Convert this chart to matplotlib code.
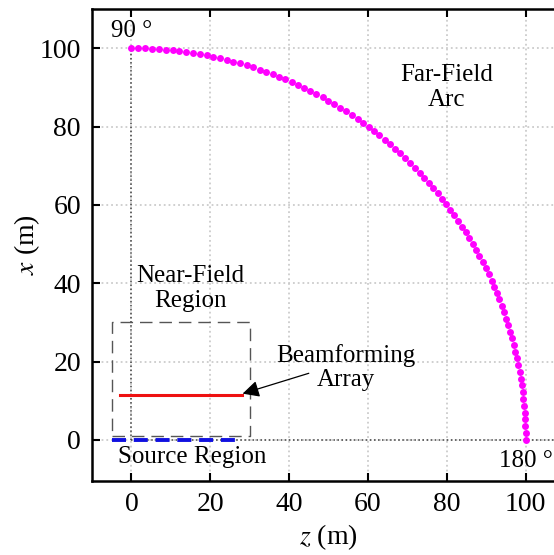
import numpy as np
import matplotlib.pyplot as plt

plt.rcParams['font.family'] = ['Liberation Serif', 'DejaVu Serif']
plt.rcParams['mathtext.fontset'] = 'stix'

# far-field arc: one point per degree, radius 100 m
arc_angles_deg = np.arange(90, 181, 1)
arc_radius = 100.0

# beamforming array (red) and source region (blue)
array_z = [-3, 28]
array_x = [11.5, 11.5]
source_z = [-5, 28]
source_x = [0, 0]

# near-field region box
box_z = [-5, 30, 30, -5, -5]
box_x = [1, 1, 30, 30, 1]

ticks = [0, 20, 40, 60, 80, 100]

fig = plt.figure(figsize=(5.54, 5.55), dpi=100)
ax = fig.add_axes([92 / 554, 74 / 555, 473 / 554, 472 / 555])

theta = np.deg2rad(arc_angles_deg)
arc_z = -arc_radius * np.cos(theta)
arc_x = arc_radius * np.sin(theta)

ax.grid(True, color='#cccccc', linestyle=':', linewidth=1.3)
ax.plot([0, 0], [0, 100], color='#444444', linestyle=':', linewidth=1.1)
ax.plot([0, 110], [0, 0], color='#444444', linestyle=':', linewidth=1.1)

ax.plot(box_z, box_x, color='#555555', linewidth=1.0, dashes=(9, 5))
ax.plot(source_z, source_x, color='#1010e0', linewidth=2.8, dashes=(3.6, 2.0), zorder=4)
ax.plot(array_z, array_x, color='#ee1111', linewidth=2.2, zorder=4)
ax.plot(arc_z, arc_x, linestyle='none', marker='o', markersize=5,
        color='#ff00ff', markeredgewidth=0, zorder=5)

tfs = 18
ax.text(0, 104.5, '90 °', ha='center', va='center', fontsize=tfs)
ax.text(100, -5.5, '180 °', ha='center', va='center', fontsize=tfs)
ax.text(80, 90, 'Far-Field\nArc', ha='center', va='center', fontsize=tfs, linespacing=1.15)
ax.text(15, 38.6, 'Near-Field\nRegion', ha='center', va='center', fontsize=tfs, linespacing=1.15)
ax.text(15.5, -4.5, 'Source Region', ha='center', va='center', fontsize=tfs)
ax.text(54.5, 18.5, 'Beamforming\nArray', ha='center', va='center', fontsize=tfs, linespacing=1.15)
ax.annotate('', xy=(28.2, 11.8), xytext=(45, 17),
            arrowprops=dict(arrowstyle='-|>', color='black', lw=0.9,
                            mutation_scale=25, shrinkA=0, shrinkB=0))

ax.set_xlim(-10, 110)
ax.set_ylim(-10.5, 110)
ax.set_xticks(ticks)
ax.set_yticks(ticks)
ax.tick_params(direction='in', length=6, width=1.5, labelsize=20,
               top=True, right=True, pad=8)
for s in ax.spines.values():
    s.set_linewidth(1.8)
ax.spines['right'].set_visible(False)

ax.set_xlabel('$z$ (m)', fontsize=20, labelpad=4)
ax.set_ylabel('$x$ (m)', fontsize=20, labelpad=-2)

fig.savefig('out.png', dpi=100)
